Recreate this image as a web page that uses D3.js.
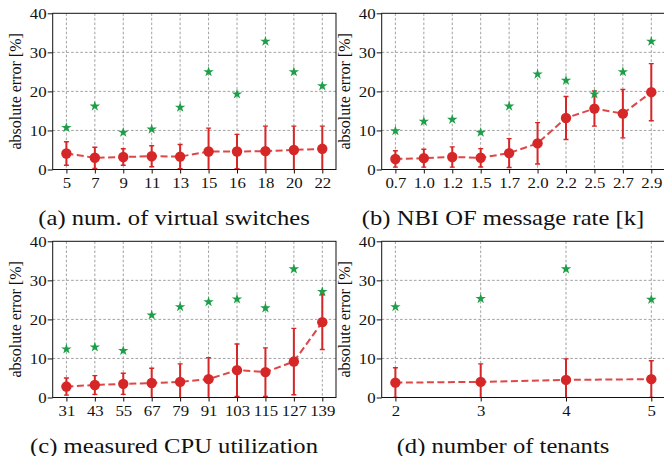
<!DOCTYPE html>
<html>
<head>
<meta charset="utf-8">
<script src="https://cdn.jsdelivr.net/npm/d3@7"></script>
<style>
body{margin:0;background:#fff}
svg{display:block}
</style>
</head>
<body>
<div id="chart"></div>
<script>
// (a) num. of virtual switches
var catsA = ["5","7","9","11","13","15","16","18","20","22"]
var starA = [10.7,16.2,9.5,10.3,15.9,25.0,19.3,32.8,25.0,21.4]
var meanA = [4.1,3.0,3.2,3.4,3.3,4.6,4.6,4.7,5.0,5.3]
var stdA  = [3.0,2.7,2.1,2.7,3.1,6.0,4.4,6.4,6.1,5.8]
// (b) NBI OF message rate [k]
var catsB = ["0.7","1.0","1.2","1.5","1.7","2.0","2.2","2.5","2.7","2.9"]
var starB = [9.9,12.3,12.8,9.5,16.2,24.4,22.8,19.3,25.0,32.8]
var meanB = [2.7,2.9,3.2,3.0,4.2,6.7,13.2,15.6,14.3,19.8]
var stdB  = [2.1,2.3,2.6,2.35,3.7,5.3,5.5,4.5,6.2,7.3]
// (c) measured CPU utilization
var catsC = ["31","43","55","67","79","91","103","115","127","139"]
var starC = [12.4,12.9,12.0,21.1,23.2,24.5,25.2,22.9,32.9,27.1]
var meanC = [2.8,3.2,3.5,3.7,4.0,4.7,7.0,6.5,9.2,19.3]
var stdC  = [2.2,2.4,2.7,3.8,4.6,5.5,6.7,6.2,8.5,7.0]
// (d) number of tenants
var catsD = ["2","3","4","5"]
var starD = [23.2,25.3,32.9,25.1]
var meanD = [3.8,4.0,4.5,4.7]
var stdD  = [3.8,4.6,5.4,4.7]

var yTicks = [0,10,20,30,40]
var captions = ["(a) num. of virtual switches","(b) NBI OF message rate [k]",
                "(c) measured CPU utilization","(d) number of tenants"]

var panels = [
  {cats:catsA, star:starA, mean:meanA, std:stdA, dx:0,   dy:0},
  {cats:catsB, star:starB, mean:meanB, std:stdB, dx:329, dy:0},
  {cats:catsC, star:starC, mean:meanC, std:stdC, dx:0,   dy:228},
  {cats:catsD, star:starD, mean:meanD, std:stdD, dx:329, dy:228}
]

var W = 664, H = 456
var mLeft = 52.7, mTop = 13.3, pw = 283.3, ph = 156.2, pad = 13.7
var red = "#d62728", green = "#1f9e49"
var serif = '"Liberation Serif","Times New Roman",serif'
var stretch = 1.12   // the reference text is a bit wider than plain Times

var svg = d3.select("#chart").append("svg")
    .attr("width", W).attr("height", H)

panels.forEach(function(p, k){
    var g = svg.append("g").attr("transform", "translate(" + (p.dx + mLeft) + "," + (p.dy + mTop) + ")")

    var x = d3.scalePoint().domain(p.cats).range([pad, pw - pad])
    var y = d3.scaleLinear().domain([0, 40]).range([ph, 0])

    // grid
    g.append("g").selectAll("line").data(p.cats).enter().append("line")
        .attr("x1", function(d){ return x(d) }).attr("x2", function(d){ return x(d) })
        .attr("y1", 0).attr("y2", ph)
        .attr("stroke", "#8a8a8a").attr("stroke-width", 0.8).attr("stroke-dasharray", "2.6,2")
    g.append("g").selectAll("line").data([10,20,30]).enter().append("line")
        .attr("x1", 0).attr("x2", pw)
        .attr("y1", function(d){ return y(d) }).attr("y2", function(d){ return y(d) })
        .attr("stroke", "#8a8a8a").attr("stroke-width", 0.8).attr("stroke-dasharray", "2.6,2")

    // axes
    var ya = g.append("g").call(d3.axisLeft(y).tickValues(yTicks).tickSize(5).tickSizeOuter(0).tickPadding(0.5))
    var xa = g.append("g").attr("transform", "translate(0," + ph + ")")
        .call(d3.axisBottom(x).tickSize(4).tickSizeOuter(0).tickPadding(4))
    ;[ya, xa].forEach(function(a){
        a.select(".domain").remove()
        a.attr("font-family", null).attr("font-size", null)
        a.selectAll("text").style("font-family", serif).style("font-size", "15px").attr("fill", "#111")
            .attr("transform", "scale(" + stretch + ",1)")
        a.selectAll("line").attr("stroke", "#111")
    })

    // clip
    var cid = "clip" + k
    g.append("clipPath").attr("id", cid).append("rect")
        .attr("width", pw).attr("height", ph)
    var inner = g.append("g").attr("clip-path", "url(#" + cid + ")")

    var rows = p.cats.map(function(c, i){
        return {c:c, m:p.mean[i], s:p.std[i], st:p.star[i]}
    })

    // dashed mean line
    inner.append("path").datum(rows)
        .attr("fill", "none").attr("stroke", red).attr("stroke-width", 2)
        .attr("stroke-opacity", 0.85).attr("stroke-dasharray", "7,3.5")
        .attr("d", d3.line().x(function(d){ return x(d.c) }).y(function(d){ return y(d.m) }))

    // error bars
    var eb = inner.append("g").selectAll("g").data(rows).enter().append("g")
        .attr("stroke", red).attr("stroke-width", 2)
    eb.append("line")
        .attr("x1", function(d){ return x(d.c) }).attr("x2", function(d){ return x(d.c) })
        .attr("y1", function(d){ return y(d.m - d.s) }).attr("y2", function(d){ return y(d.m + d.s) })
    eb.append("line").attr("stroke-width", 1.4)
        .attr("x1", function(d){ return x(d.c) - 2.5 }).attr("x2", function(d){ return x(d.c) + 2.5 })
        .attr("y1", function(d){ return y(d.m + d.s) }).attr("y2", function(d){ return y(d.m + d.s) })
    eb.append("line").attr("stroke-width", 1.4)
        .attr("x1", function(d){ return x(d.c) - 2.5 }).attr("x2", function(d){ return x(d.c) + 2.5 })
        .attr("y1", function(d){ return y(d.m - d.s) }).attr("y2", function(d){ return y(d.m - d.s) })

    // mean markers
    inner.append("g").selectAll("circle").data(rows).enter().append("circle")
        .attr("cx", function(d){ return x(d.c) }).attr("cy", function(d){ return y(d.m) })
        .attr("r", 5.2).attr("fill", red)

    // stars
    inner.append("g").selectAll("path").data(rows).enter().append("path")
        .attr("transform", function(d){ return "translate(" + x(d.c) + "," + y(d.st) + ")" })
        .attr("d", d3.symbol().type(d3.symbolStar).size(34))
        .attr("fill", green)

    // frame
    g.append("rect").attr("width", pw).attr("height", ph)
        .attr("fill", "none").attr("stroke", "#111").attr("stroke-width", 1)

    // y label
    svg.append("text")
        .attr("transform", "translate(" + (p.dx + 21) + "," + (p.dy + mTop + ph / 2) + ") rotate(-90)")
        .attr("text-anchor", "middle").style("font-family", serif).style("font-size", "16px")
        .attr("fill", "#111")
        .text("absolute error [%]")

    // caption
    svg.append("text")
        .attr("transform", "translate(" + (p.dx + 174) + "," + (p.dy + 224.5) + ") scale(" + stretch + ",1)")
        .attr("text-anchor", "middle").style("font-family", serif).style("font-size", "22px")
        .attr("fill", "#111")
        .text(captions[k])
})
</script>
</body>
</html>
